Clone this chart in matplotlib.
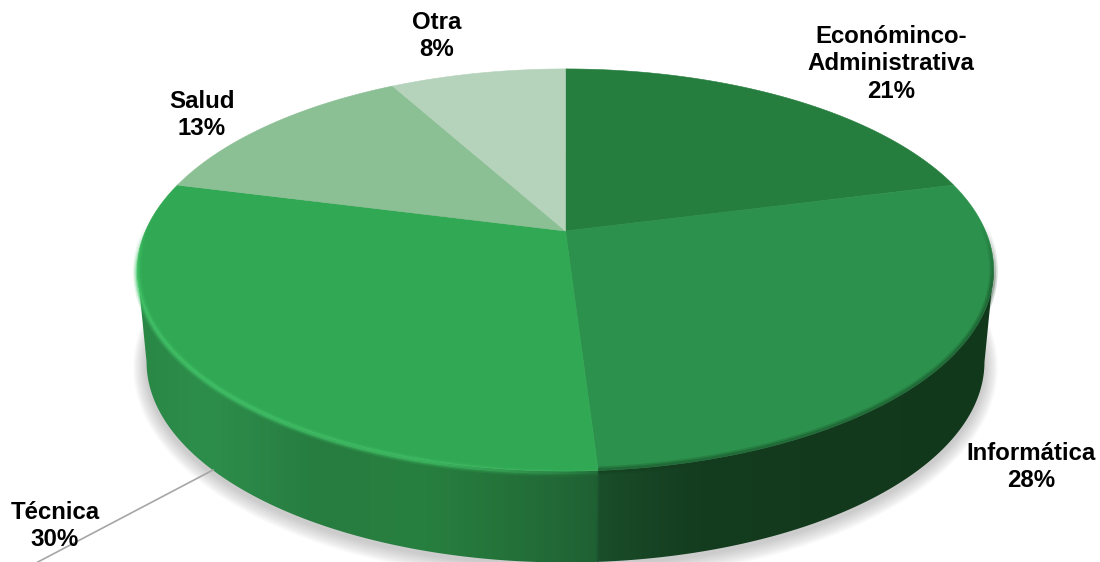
#!/usr/bin/env python
"""
    plot.py - 3D style pie of share per area, drawn with polygons on a pixel sized axes
"""

import matplotlib
matplotlib.use('Agg')
import matplotlib.pyplot as plt
import numpy as np
from matplotlib.collections import LineCollection
from matplotlib.colors import to_rgb
from matplotlib.patches import Polygon

categories = ['Económinco-\nAdministrativa', 'Informática', 'Técnica', 'Salud', 'Otra']
values = [21, 28, 30, 13, 8]

top_colors = ['#257d3e', '#2c914c', '#31a854', '#8bbf94', '#b5d3bb']

# where each label sits (centre of the text block)
label_pos = [(891, 64), (1031, 467), (55, 526), (202, 115), (437, 36)]

# wall shading, (x, colour) stops for the two slices seen from the front
wall_stops = {
    1: [(600, '#1a4d29'), (700, '#143c1f'), (800, '#133a1d'), (1000, '#12381b')],
    2: [(135, '#2a8746'), (210, '#2d8e4b'), (320, '#277c40'), (420, '#27803f'),
        (510, '#24723a'), (600, '#1f6033')],
}

CX, CY = 565.5, 231.0
PERSP = 0.194
TOP_A, TOP_B = 193.5, 420.0
BASE_DY, BASE_A, BASE_B = 92.0, 193.0, 411.0


def project(theta, dy=0.0, a=TOP_A, b=TOP_B):
    # theta runs clockwise from twelve o'clock, the back of the disc is further away
    w = 1 + PERSP * np.cos(theta)
    x = CX + b * np.sin(theta) / w
    y = CY + dy - a * np.cos(theta) / w
    return x, y


def arc(start, end, n=200):
    return np.linspace(start, end, n)


def interp_colors(x, stops):
    xs = [s[0] for s in stops]
    rgb = np.array([to_rgb(s[1]) for s in stops])
    return np.column_stack([np.interp(x, xs, rgb[:, i]) for i in range(3)])


def draw_shadow(ax):
    # soft grey halo, stacked low alpha discs under the base
    theta = arc(0, 2 * np.pi, 400)
    for s in np.linspace(13, 1, 12):
        x, y = project(theta, BASE_DY + 3, BASE_A + s, BASE_B + s)
        ax.fill(x, y, facecolor='#707070', edgecolor='none', alpha=0.03, zorder=1)


def wall_outline(start, end, side):
    # top and base arcs only run as far as their outermost point, the straight
    # piece between those two points is the side of the drum
    theta = arc(start, end, 500)
    x0, y0 = project(theta)
    x1, y1 = project(theta, BASE_DY, BASE_A, BASE_B)
    if side == 'right':
        i, j = np.argmax(x0), np.argmax(x1)
        x0, y0, x1, y1 = x0[i:], y0[i:], x1[j:], y1[j:]
    else:
        i, j = np.argmin(x0), np.argmin(x1)
        x0, y0, x1, y1 = x0[:i + 1], y0[:i + 1], x1[:j + 1], y1[:j + 1]
    return np.column_stack([np.concatenate([x0, x1[::-1]]), np.concatenate([y0, y1[::-1]])])


def draw_walls(ax, edges):
    for idx, stops in wall_stops.items():
        outline = wall_outline(edges[idx], edges[idx + 1], 'right' if idx == 1 else 'left')
        patch = Polygon(outline, closed=True, facecolor='none', edgecolor='none', transform=ax.transData)
        ax.add_patch(patch)

        # horizontal gradient, cut to the wall outline
        xmin, xmax = outline[:, 0].min(), outline[:, 0].max()
        ymin, ymax = outline[:, 1].min(), outline[:, 1].max()
        gx = np.linspace(xmin, xmax, 600)
        img = ax.imshow(interp_colors(gx, stops)[None, :, :], extent=[xmin, xmax, ymax, ymin],
                        aspect='auto', interpolation='bilinear', zorder=2)
        img.set_clip_path(patch)

    # seam between the two slices
    x0, y0 = project(edges[2])
    x1, y1 = project(edges[2], BASE_DY, BASE_A, BASE_B)
    ax.plot([x0, x1], [y0, y1], color='#1c5630', lw=1.2, zorder=2.5)


def segments(x, y):
    return np.stack([np.column_stack([x[:-1], y[:-1]]), np.column_stack([x[1:], y[1:]])], axis=1)


def draw_rim(ax, edges):
    # bevel along the front edge of the disc: light on Técnica, dark on Informática
    theta = arc(edges[2], edges[3], 500)
    theta = theta[np.cos(theta) < 0.1]
    x, y = project(theta)
    segs = segments(x, y)
    fade = np.interp(x[:-1], [137, 160, 420, 600], [1.0, 1.0, 0.9, 0.15])
    fade = fade * np.interp(y[:-1], [225, 270], [0.0, 1.0])
    for lw, alpha in [(6, 0.18), (4, 0.3), (2.2, 0.6)]:
        rgba = np.tile(np.append(to_rgb('#45c96c'), 0.0), (len(segs), 1))
        rgba[:, 3] = fade * alpha
        ax.add_collection(LineCollection(segs + [0, 1.5], colors=rgba, linewidths=lw, capstyle='butt', zorder=4))

    theta = arc(edges[1], edges[2], 500)
    x, y = project(theta)
    segs = segments(x, y)
    fade = np.interp(y[:-1], [225, 285], [0.0, 1.0])
    for lw, alpha in [(6, 0.2), (3.5, 0.3)]:
        rgba = np.tile(np.append(to_rgb('#143c1f'), 0.0), (len(segs), 1))
        rgba[:, 3] = fade * alpha
        ax.add_collection(LineCollection(segs, colors=rgba, linewidths=lw, capstyle='butt', zorder=4))


def main():
    fig = plt.figure(figsize=(11, 5.62), dpi=100)
    ax = fig.add_axes([0, 0, 1, 1])

    shares = np.array(values) / sum(values)
    edges = np.concatenate([[0], np.cumsum(shares)]) * 2 * np.pi

    draw_shadow(ax)
    draw_walls(ax, edges)

    for i, color in enumerate(top_colors):
        x, y = project(arc(edges[i], edges[i + 1]))
        ax.fill(np.append(x, CX), np.append(y, CY), facecolor=color, edgecolor=color, lw=0.4, zorder=3)

    draw_rim(ax, edges)

    # leader line for the Técnica label
    ax.plot([213, 36], [470, 563], color='#a6a6a6', lw=1.2, zorder=5)

    for name, value, (tx, ty) in zip(categories, values, label_pos):
        ax.text(tx, ty, f"{name}\n{value}%", ha='center', va='center', multialignment='center',
                family='Liberation Sans', fontweight='bold', fontsize=17.3, linespacing=1.25,
                color='black', zorder=6)

    # imshow resets the limits, so they are fixed last
    ax.set_xlim(0, 1100)
    ax.set_ylim(562, 0)
    ax.axis('off')

    fig.savefig('out.png', dpi=100)


if __name__ == "__main__":
    main()
